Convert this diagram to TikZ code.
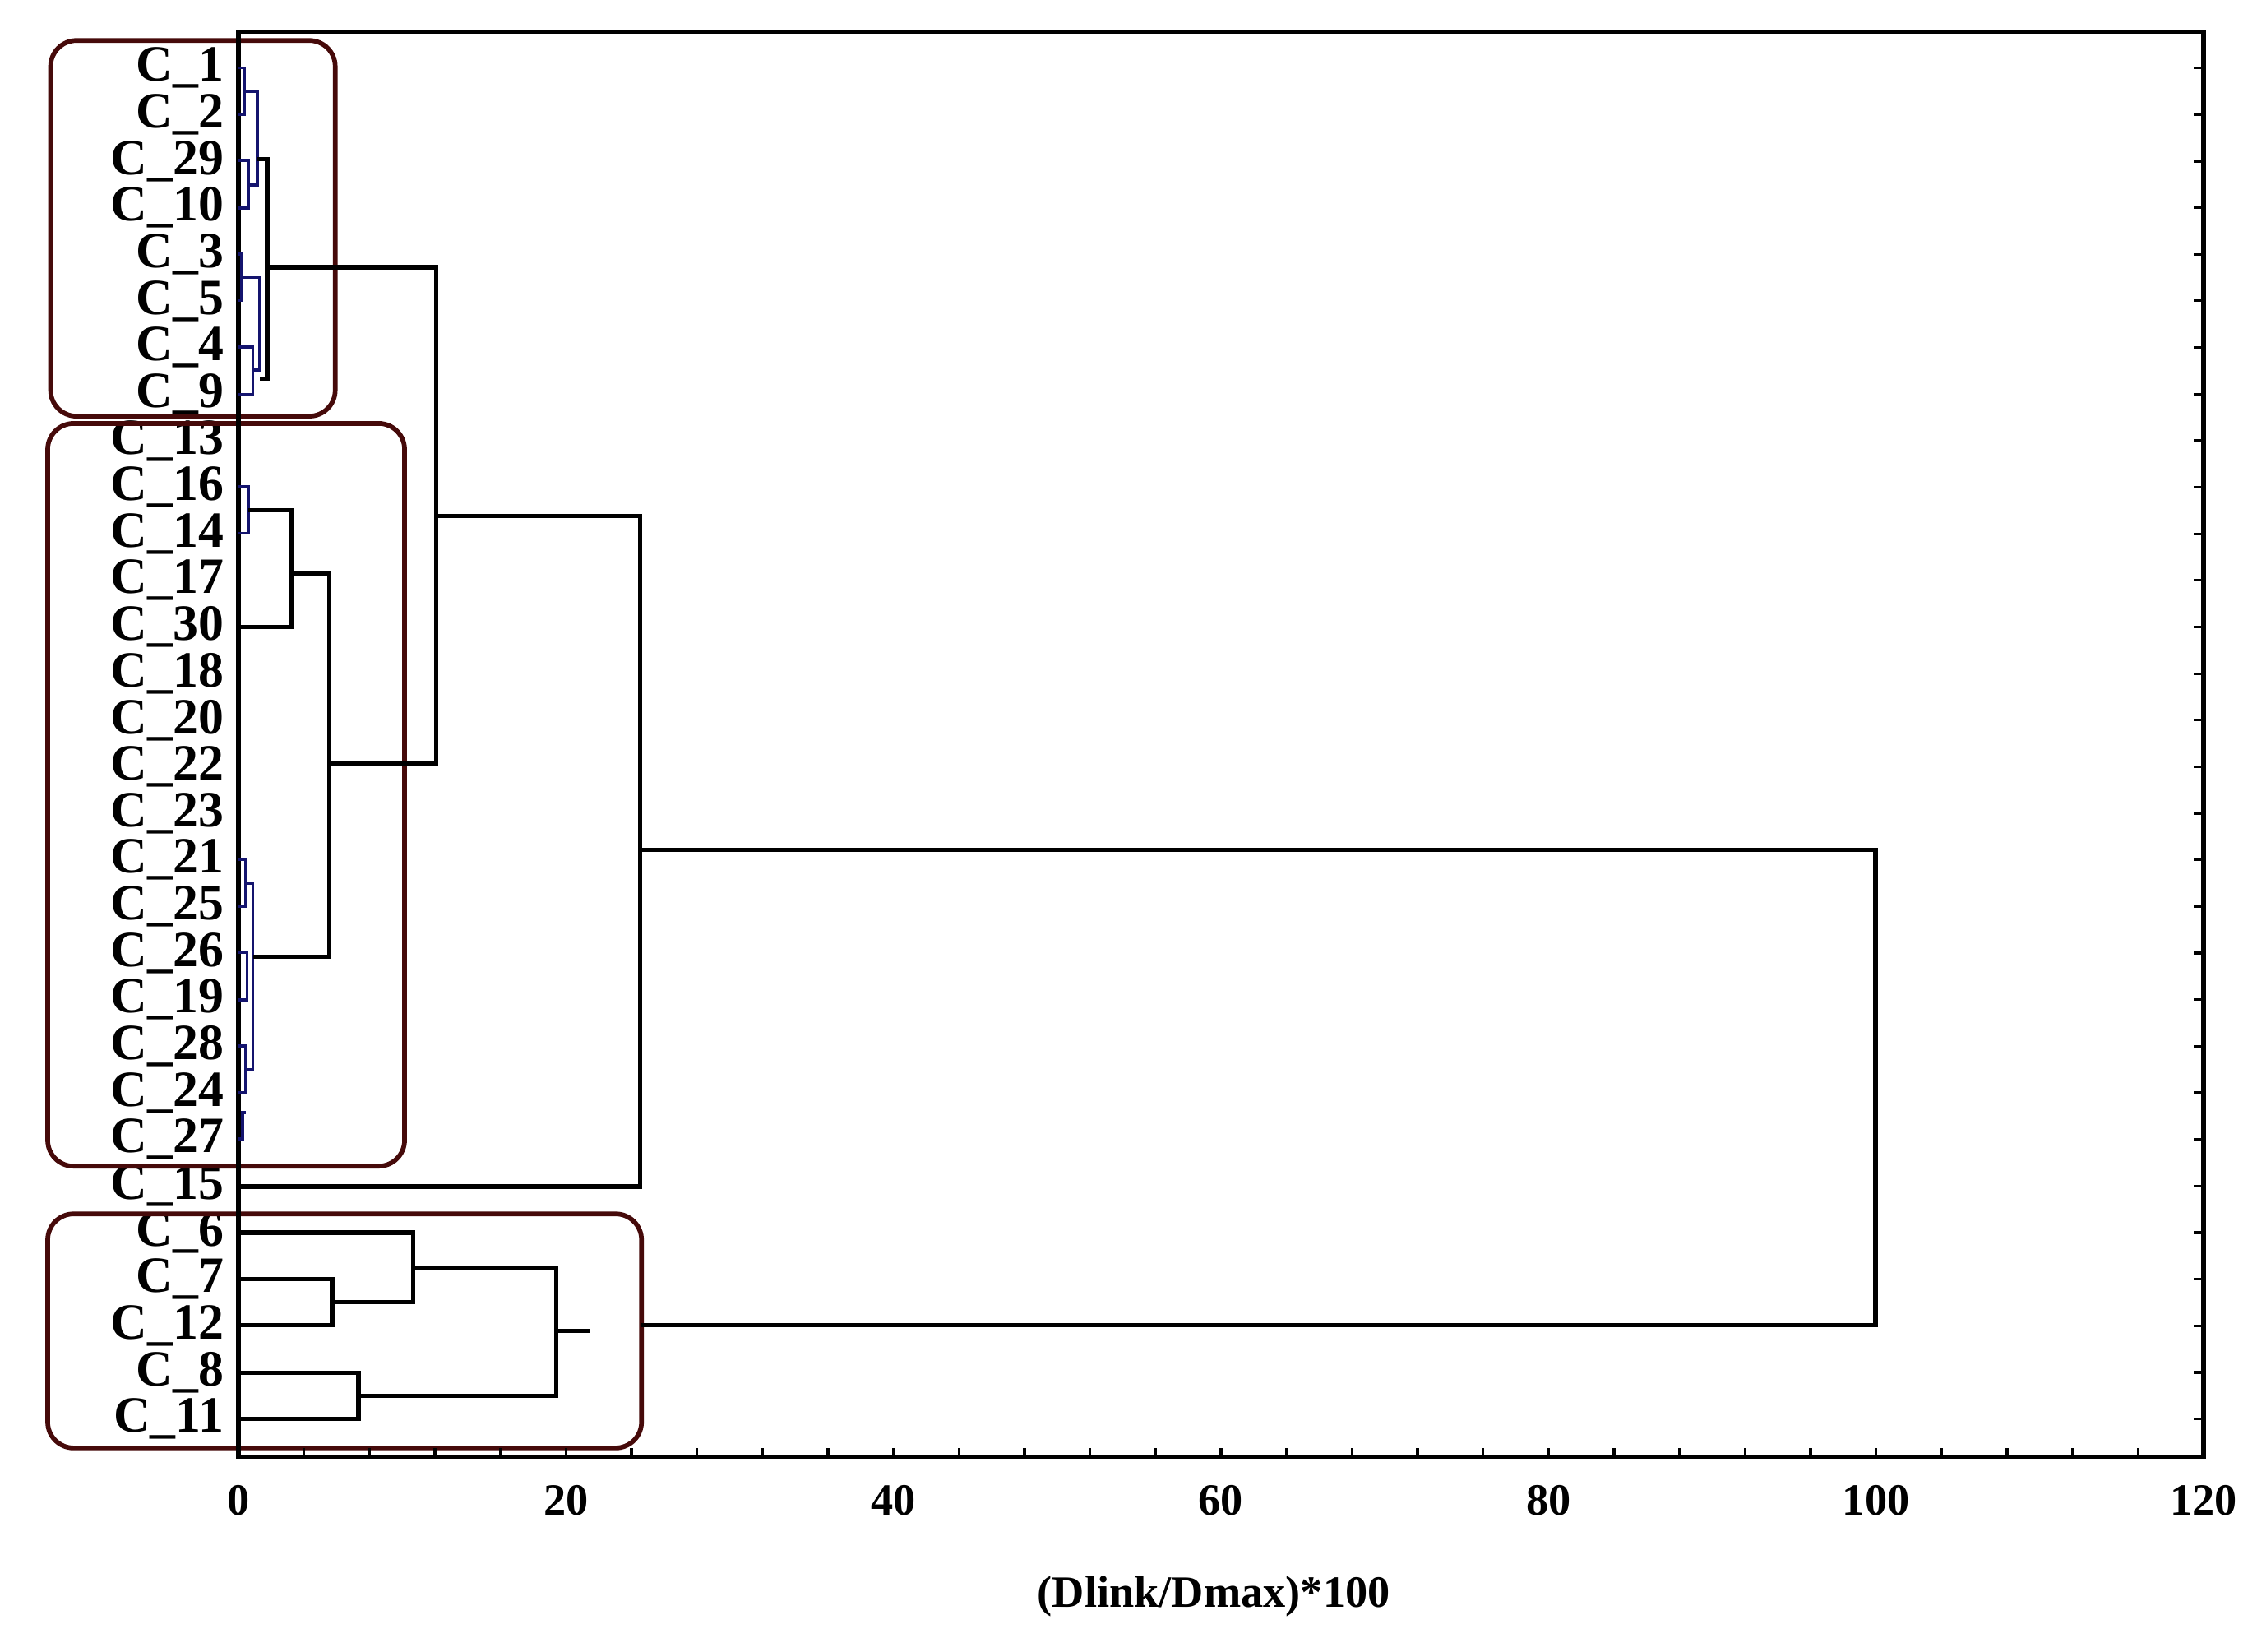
\documentclass[tikz,border=0pt]{standalone}
\usepackage{fontspec}
\setmainfont{Liberation Serif}
\definecolor{boxc}{RGB}{70,10,10}
\definecolor{tinyc}{RGB}{20,20,110}
\begin{document}
\begin{tikzpicture}[x=0.05cm,y=-0.05cm,
  dl/.style={line width=4.4pt,black,line join=miter},
  tiny/.style={line width=3pt,tinyc},
  grp/.style={line width=4.6pt,boxc,rounded corners=0.9cm},
  lab/.style={anchor=east,font=\fontsize{50}{50}\selectfont\bfseries,inner sep=0pt},
  tnum/.style={anchor=north,font=\fontsize{44}{44}\selectfont\bfseries,inner sep=0pt}]
\useasboundingbox (0,0) rectangle (1562,1143);
\fill[white] (0,0) rectangle (1562,1143);
% leaves
\foreach \n [count=\i from 0] in {1,2,29,10,3,5,4,9,13,16,14,17,30,18,20,22,23,21,25,26,19,28,24,27,15,6,7,12,8,11}{
  \node[lab] (c\n) at (155,{47+32.24*\i}) {C\_\n};
}
% group boxes
\draw[grp] (35,28) rectangle (232,288);
\draw[grp] (33,293) rectangle (280,807);
\draw[grp] (33,840) rectangle (444,1002);
% frame
\draw[line width=4.4pt] (165,22) rectangle (1525,1008);
\foreach \i in {0,...,29}{\draw[line width=2.6pt] (1525,{47+32.24*\i}) -- ++(-7,0);}
\foreach \k in {1,...,29}{\draw[line width=2.6pt] ({165+11.333*4*\k},1008) -- ++(0,-6);}
\foreach \v in {0,20,40,60,80,100,120}{\node[tnum] (t\v) at ({165+11.333*\v},1028) {\v};}
\node[font=\fontsize{44}{44}\selectfont\bfseries,inner sep=0pt] (xt) at (840,1105) {(Dlink/Dmax)*100};
% cluster A
\draw[tiny] (165,47)--(169,47)--(169,79)--(165,79);
\draw[tiny] (165,111)--(172,111)--(172,144)--(165,144);
\draw[tiny] (169,63)--(178,63)--(178,128)--(172,128);
\draw[tiny] (165,176)--(167,176)--(167,208)--(165,208);
\draw[tiny] (165,240)--(175,240)--(175,273)--(165,273);
\draw[tiny] (167,192)--(180,192)--(180,256)--(175,256);
\draw[dl] (178,110)--(185,110)--(185,262)--(180,262);
% cluster B
\draw[tiny] (165,337)--(172,337)--(172,369)--(165,369);
\draw[dl] (172,353)--(202,353)--(202,434)--(165,434);
\draw[tiny] (165,595)--(170,595)--(170,627)--(165,627);
\draw[tiny] (165,659)--(171,659)--(171,692)--(165,692);
\draw[tiny] (165,724)--(170,724)--(170,756)--(165,756);
\draw[tiny] (165,788)--(168,788)--(168,770)--(170,770);
\draw[tiny] (170,611)--(175,611)--(175,740)--(170,740);
\draw[dl] (202,397)--(228,397)--(228,662)--(175,662);
% A + B, +15
\draw[dl] (185,185)--(302,185)--(302,528)--(228,528);
\draw[dl] (302,357)--(443,357)--(443,821)--(165,821);
% cluster C
\draw[dl] (165,885)--(230,885)--(230,917)--(165,917);
\draw[dl] (165,853)--(286,853)--(286,901)--(230,901);
\draw[dl] (165,950)--(248,950)--(248,982)--(165,982);
\draw[dl] (286,877)--(385,877)--(385,966)--(248,966);
\draw[dl] (385,921)--(408,921);
% top join
\draw[dl] (443,588)--(1298,588)--(1298,917)--(443,917);
\end{tikzpicture}
\end{document}
